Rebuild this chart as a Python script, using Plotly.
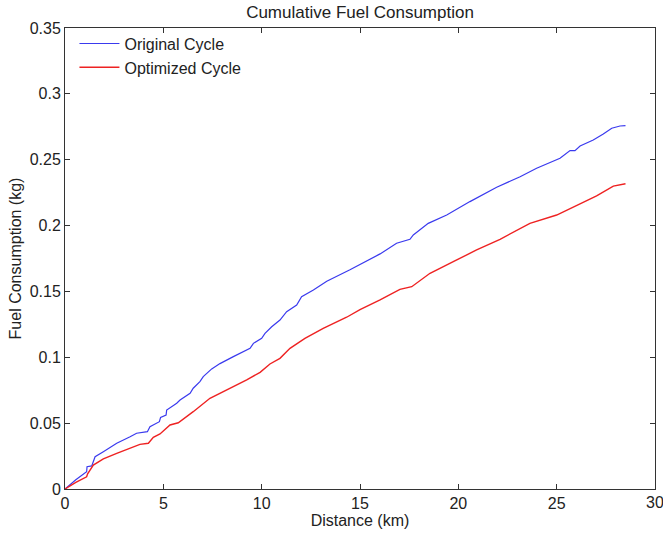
import plotly.graph_objects as go

# Cumulative fuel use along the route (distance in km, fuel in kg)
orig_km = [0.0, 0.55, 1.10, 1.12, 1.36, 1.53, 1.95, 2.63, 3.31, 3.64, 4.19, 4.32, 4.80,
           4.86, 5.14, 5.17, 5.68, 5.85, 6.36, 6.52, 6.86, 7.03, 7.46, 7.88, 8.56,
           9.41, 9.58, 10.00, 10.17, 10.51, 10.93, 11.27, 11.78, 12.03, 12.63, 13.31,
           14.49, 15.17, 16.02, 16.86, 17.54, 17.71, 18.47, 19.41, 20.59, 21.95,
           23.14, 23.98, 25.17, 25.68, 25.93, 26.19, 26.86, 27.37, 27.80, 28.22, 28.50]
orig_kg = [0.0, 0.0070, 0.0131, 0.0169, 0.0175, 0.0245, 0.0283, 0.0347, 0.0397, 0.0423,
           0.0435, 0.0473, 0.0511, 0.0544, 0.0562, 0.0600, 0.0651, 0.0676, 0.0727,
           0.0765, 0.0815, 0.0853, 0.0912, 0.0952, 0.1005, 0.1068, 0.1106, 0.1144,
           0.1182, 0.1232, 0.1283, 0.1346, 0.1397, 0.1460, 0.1511, 0.1578, 0.1665,
           0.1720, 0.1785, 0.1866, 0.1896, 0.1929, 0.2017, 0.2080, 0.2182, 0.2291,
           0.2371, 0.2435, 0.2511, 0.2569, 0.2569, 0.2604, 0.2650, 0.2695, 0.2739,
           0.2756, 0.2759]

opt_km = [0.0, 0.55, 1.10, 1.15, 1.44, 1.95, 2.63, 3.31, 3.81, 4.24, 4.49, 4.83, 5.34,
          5.76, 6.52, 7.37, 8.22, 9.24, 9.92, 10.42, 10.93, 11.44, 12.20, 13.13,
          14.32, 15.00, 16.02, 17.03, 17.63, 18.56, 19.92, 20.93, 22.12, 23.64,
          25.00, 26.02, 27.03, 27.88, 28.50]
opt_kg = [0.0, 0.0050, 0.0093, 0.0115, 0.0182, 0.0228, 0.0271, 0.0309, 0.0339, 0.0347,
          0.0392, 0.0418, 0.0486, 0.0503, 0.0587, 0.0689, 0.0752, 0.0828, 0.0886,
          0.0949, 0.0992, 0.1068, 0.1144, 0.1220, 0.1304, 0.1362, 0.1435, 0.1516,
          0.1536, 0.1638, 0.1739, 0.1815, 0.1896, 0.2017, 0.2080, 0.2156, 0.2225,
          0.2300, 0.2318]

x_ticks = [0, 5, 10, 15, 20, 25, 30]
y_ticks = [0, 0.05, 0.1, 0.15, 0.2, 0.25, 0.3, 0.35]
y_tick_text = ["0", "0.05", "0.1", "0.15", "0.2", "0.25", "0.3", "0.35"]

font_family = "Liberation Sans, Arial, sans-serif"
font_size = 16
text_color = "#222222"

fig = go.Figure()
fig.add_trace(go.Scatter(x=orig_km, y=orig_kg, mode="lines", name="Original Cycle",
                         line=dict(color="#3a3aee", width=1.2)))
fig.add_trace(go.Scatter(x=opt_km, y=opt_kg, mode="lines", name="Optimized Cycle",
                         line=dict(color="#ee2222", width=1.4)))

axis_common = dict(
    showgrid=False, zeroline=False,
    showline=True, mirror="ticks", linecolor="#333333", linewidth=1,
    ticks="inside", ticklen=5, tickcolor="#333333", tickwidth=1,
    tickfont=dict(family=font_family, size=font_size, color=text_color),
)

# The last x label sits on the right edge of the box; plotly drops labels that
# overflow the page, so it is placed as an annotation and left to be cut off.
x_label_vals = x_ticks[:-1]
edge_label = x_ticks[-1]

fig.update_layout(
    width=663, height=536,
    margin=dict(l=65, r=8, t=28, b=47),
    paper_bgcolor="white", plot_bgcolor="white",
    font=dict(family=font_family, size=font_size, color=text_color),
    title=dict(text="Cumulative Fuel Consumption", x=0.5, xref="paper",
               y=1 - 12 / 536, yref="container", yanchor="middle",
               font=dict(family=font_family, size=17, color=text_color)),
    xaxis=dict(range=[0, 30], tickvals=x_ticks,
               ticktext=[str(v) if v in x_label_vals else "" for v in x_ticks],
               title=dict(text="Distance (km)", standoff=0,
                          font=dict(family=font_family, size=font_size)),
               **axis_common),
    yaxis=dict(range=[0, 0.35], tickvals=y_ticks, ticktext=y_tick_text,
               title=dict(text="Fuel Consumption (kg)", standoff=4,
                          font=dict(family=font_family, size=font_size)),
               **axis_common),
    legend=dict(x=0.016, y=1.003, xanchor="left", yanchor="top",
                bgcolor="rgba(0,0,0,0)", borderwidth=0,
                font=dict(family=font_family, size=font_size, color=text_color),
                itemwidth=40, tracegroupgap=0),
    showlegend=True,
    annotations=[dict(x=edge_label, xref="x", y=0, yref="paper",
                      text=str(edge_label), showarrow=False,
                      xanchor="center", yanchor="top", yshift=-3,
                      font=dict(family=font_family, size=font_size, color=text_color))],
)

fig.write_html("out.html")
